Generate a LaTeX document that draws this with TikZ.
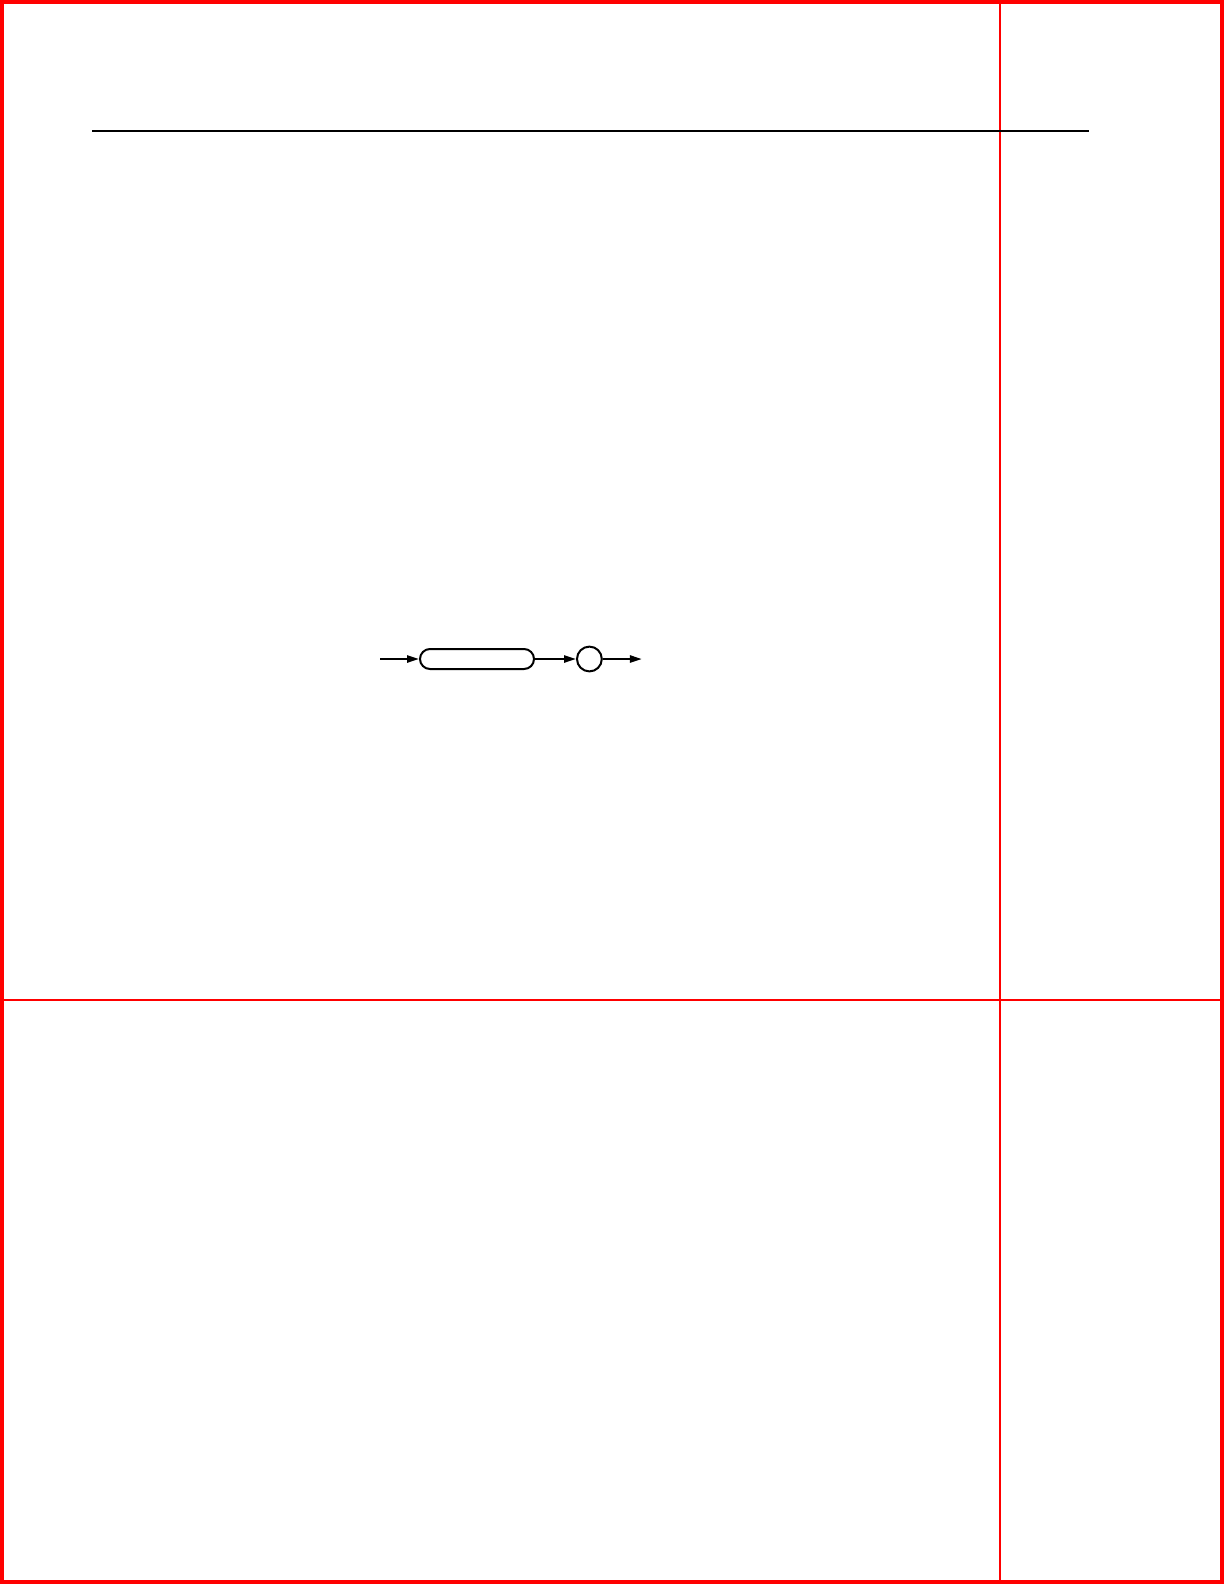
\documentclass[tikz,border=0pt]{standalone}
\usepackage{tikz}
\usetikzlibrary{positioning,arrows.meta}
\tikzset{
  px/.style={x=0.5pt, y=-0.5pt},
  kw/.style={rectangle, rounded corners=5pt, minimum width=57pt, minimum height=10pt, inner sep=0pt, draw=black},
  sep/.style={circle, minimum size=12.4pt, inner sep=0pt, draw=black},
  flow/.style={-{Triangle[length=6pt,width=3.6pt]}},
  node distance=20.5pt
}
\begin{document}
\begin{tikzpicture}[px, line width=1pt]
	\useasboundingbox (0,0) rectangle (1224,1584);
	\draw[red, line width=4pt] (0,0) rectangle (1224,1584);
	\draw[red] (1000,0) -- (1000,1584);
	\draw[red] (0,1000) -- (1224,1000);
	\draw[line width=0.8pt] (92,131) -- (1089,131);

	\node[kw] (cmd) at (477,659) {};
	\node[sep, right=of cmd] (sc) {};
	\coordinate[left=19.5pt of cmd] (in);
	\coordinate[right=19.5pt of sc] (out);

	\draw[flow] (in) -- (cmd);
	\draw[flow] (cmd) -- (sc);
	\draw[flow] (sc) -- (out);
\end{tikzpicture}
\end{document}
